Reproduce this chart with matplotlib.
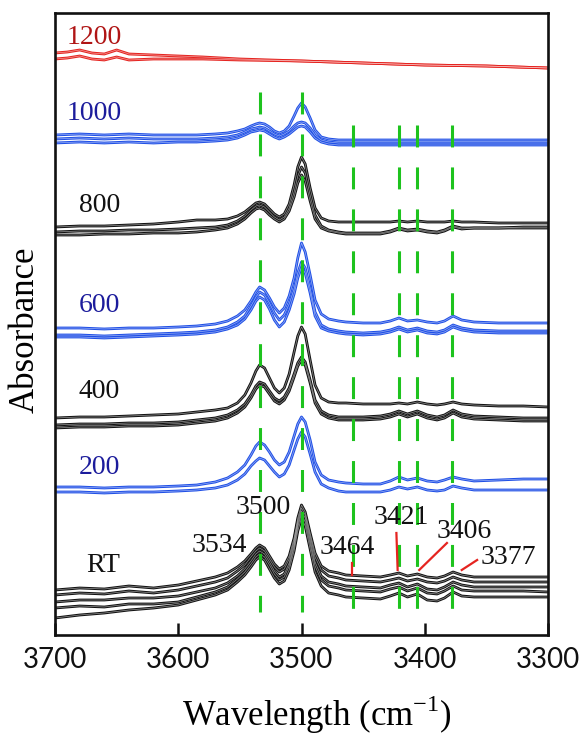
import matplotlib
matplotlib.use("Agg")
import matplotlib.pyplot as plt

plt.rcParams["lines.scale_dashes"] = False

# ---------------- data ----------------
wn = [3700, 3680, 3660, 3640, 3620, 3600,
      3585, 3570, 3560, 3552, 3546, 3541, 3537, 3534,
      3530, 3526, 3522, 3518, 3514, 3510, 3506, 3503, 3500,
      3497, 3493, 3489, 3484, 3478, 3470, 3464,
      3450, 3436, 3428, 3421, 3414, 3406, 3398, 3390, 3384, 3377,
      3370, 3360, 3340, 3320, 3300]

rt_lines = [
    [45, 47, 46, 49, 47, 50, 54, 58, 62, 68, 74, 81, 87, 90, 87, 79, 71, 66, 69, 79, 97, 117, 130,
     123, 102, 82, 69, 64, 62, 60, 59, 58, 60, 62, 59, 61, 58, 57, 59, 63, 60, 58, 58, 58, 58],
    [40, 42, 41, 44, 42, 45, 49, 53, 57, 64, 70, 78, 84, 87, 84, 76, 68, 63, 66, 76, 94, 114, 127,
     120, 99, 78, 65, 59, 57, 55, 54, 53, 55, 57, 54, 56, 53, 52, 54, 58, 55, 53, 53, 53, 53],
    [33, 35, 35, 37, 37, 39, 43, 47, 52, 59, 66, 74, 81, 84, 81, 73, 64, 58, 61, 72, 91, 111, 124,
     117, 95, 73, 59, 53, 51, 49, 48, 47, 50, 52, 48, 51, 46, 45, 48, 53, 50, 48, 48, 48, 48],
    [27, 29, 28, 31, 31, 33, 38, 43, 48, 56, 63, 71, 78, 81, 78, 70, 61, 55, 58, 69, 88, 108, 121,
     113, 91, 69, 55, 49, 47, 45, 44, 43, 46, 48, 44, 47, 42, 41, 44, 49, 45, 44, 44, 44, 43],
    [17, 20, 22, 25, 27, 30, 35, 40, 45, 53, 60, 68, 75, 78, 75, 66, 57, 51, 54, 65, 84, 104, 117,
     109, 86, 63, 49, 42, 40, 38, 37, 36, 39, 42, 38, 41, 35, 34, 37, 43, 39, 38, 38, 38, 38],
]
t200_lines = [
    [148, 148, 147, 148, 148, 149, 150, 153, 157, 163, 170, 180, 189, 193, 190, 183, 175, 170, 173, 183, 199, 211, 218,
     213, 195, 173, 160, 155, 153, 152, 151, 151, 154, 158, 155, 157, 154, 153, 155, 158, 156, 154, 155, 156, 156],
    [143, 143, 142, 143, 143, 144, 145, 147, 150, 155, 161, 169, 174, 177, 175, 169, 163, 158, 161, 170, 185, 196, 203,
     198, 181, 163, 151, 147, 144, 143, 143, 143, 145, 148, 146, 148, 145, 144, 145, 149, 147, 145, 145, 145, 145],
]
t400_lines = [
    [217, 218, 218, 219, 220, 221, 223, 225, 227, 232, 240, 252, 264, 270, 267, 257, 247, 242, 247, 261, 283, 299, 308,
     301, 275, 250, 237, 233, 232, 232, 231, 231, 231, 232, 231, 233, 231, 230, 231, 233, 231, 230, 229, 229, 228],
    [210, 211, 211, 212, 212, 213, 215, 217, 220, 225, 231, 240, 249, 253, 251, 244, 237, 234, 238, 247, 261, 272, 278,
     273, 255, 235, 224, 220, 218, 218, 218, 219, 221, 224, 221, 224, 220, 218, 220, 225, 221, 219, 218, 217, 217],
    [207, 208, 208, 209, 209, 210, 212, 214, 217, 222, 228, 237, 246, 250, 248, 241, 234, 231, 235, 244, 258, 269, 275,
     270, 252, 232, 221, 217, 215, 215, 215, 216, 218, 221, 218, 221, 217, 215, 217, 222, 218, 216, 215, 214, 214],
]
t600_lines = [
    [307, 307, 306, 307, 307, 308, 309, 311, 314, 319, 325, 334, 343, 348, 345, 337, 328, 322, 327, 339, 357, 377, 392,
     383, 360, 335, 321, 316, 314, 313, 312, 312, 314, 317, 314, 315, 313, 312, 314, 319, 315, 313, 312, 312, 312],
    [300, 300, 299, 300, 301, 302, 303, 305, 308, 313, 319, 329, 338, 343, 340, 332, 322, 315, 320, 331, 346, 362, 373,
     367, 347, 323, 310, 306, 304, 303, 302, 303, 305, 308, 305, 307, 304, 303, 305, 310, 307, 305, 304, 304, 304],
    [298, 298, 297, 298, 299, 300, 301, 303, 306, 310, 316, 325, 334, 338, 335, 326, 315, 308, 313, 325, 341, 357, 368,
     362, 342, 319, 307, 304, 302, 301, 300, 301, 303, 306, 303, 305, 302, 301, 303, 308, 305, 303, 302, 302, 302],
]
t800_lines = [
    [408, 409, 409, 410, 411, 413, 415, 415, 416, 419, 423, 428, 432, 433, 431, 426, 421, 418, 421, 431, 450, 468, 478,
     471, 447, 427, 417, 414, 413, 413, 413, 413, 413, 414, 413, 414, 413, 413, 413, 414, 413, 413, 412, 412, 412],
    [403, 404, 404, 405, 405, 406, 407, 408, 410, 414, 419, 425, 429, 430, 428, 423, 418, 415, 418, 427, 443, 459, 468,
     462, 440, 420, 409, 405, 403, 402, 402, 402, 404, 407, 405, 406, 404, 403, 405, 409, 407, 407, 407, 407, 407],
    [400, 400, 401, 401, 402, 402, 403, 405, 407, 411, 416, 422, 426, 427, 425, 420, 416, 413, 416, 424, 438, 452, 460,
     454, 434, 416, 407, 404, 402, 401, 401, 401, 403, 406, 404, 405, 403, 402, 404, 408, 406, 407, 407, 408, 408],
]
t1000_lines = [
    [500, 501, 500, 501, 500, 500, 500, 501, 502, 504, 506, 509, 511, 512, 511, 508, 504, 502, 504, 509, 519, 527, 532,
     528, 517, 505, 498, 496, 495, 495, 495, 495, 495, 495, 495, 495, 495, 495, 495, 495, 495, 495, 495, 495, 495],
    [496, 497, 496, 497, 496, 496, 496, 497, 498, 500, 503, 506, 507, 508, 507, 504, 501, 499, 501, 504, 509, 512, 513,
     512, 507, 500, 495, 493, 492, 492, 492, 492, 492, 492, 492, 492, 492, 492, 492, 492, 492, 492, 492, 492, 492],
    [492, 493, 492, 493, 492, 493, 493, 494, 495, 497, 500, 503, 504, 505, 504, 501, 498, 496, 498, 501, 505, 508, 509,
     508, 503, 497, 493, 491, 490, 490, 490, 490, 490, 490, 490, 490, 490, 490, 490, 490, 490, 490, 490, 490, 490],
]
wn_1200 = [3700, 3690, 3680, 3670, 3660, 3650, 3640, 3620, 3600, 3580, 3550, 3500, 3450, 3400, 3350, 3300]
t1200_lines = [
    [582, 583, 585, 582, 581, 585, 581, 580, 579, 578, 576, 574, 572, 570, 569, 567],
    [576, 577, 579, 576, 575, 578, 575, 576, 576, 576, 575, 574, 572, 570, 569, 567],
]

group_names = ["RT", "200", "400", "600", "800", "1000", "1200"]

peak_lines = [3534, 3500, 3458, 3421, 3406, 3378]
peak_tops = [543, 543, 510, 510, 510, 510]
peak_bottom = 23

peak_labels = ["3534", "3500", "3464", "3421", "3406", "3377"]
xticks = [3700, 3600, 3500, 3400, 3300]

# ---------------- styling / layout ----------------
BLACK = "#111111"
BLUE = "#1f4fe6"
RED = "#e52420"
GREEN = "#1ec31e"
NAVY = "#1c1c9c"
DARKRED = "#b01515"
SERIF = "Liberation Serif"

groups = [
    (wn, rt_lines, BLACK, BLACK, (3661, 69)),
    (wn, t200_lines, BLUE, NAVY, (3664, 168)),
    (wn, t400_lines, BLACK, BLACK, (3664, 243)),
    (wn, t600_lines, BLUE, NAVY, (3664, 330)),
    (wn, t800_lines, BLACK, BLACK, (3664, 430)),
    (wn, t1000_lines, BLUE, NAVY, (3668, 521)),
    (wn_1200, t1200_lines, RED, DARKRED, (3668, 598)),
]

W, H = 582, 738
fig = plt.figure(figsize=(W / 100, H / 100), dpi=100)
ax = fig.add_axes([55 / W, 1 - 635 / H, 493 / W, 622 / H])

for (x, lines, col, lcol, lpos), name in zip(groups, group_names):
    for vals in lines:
        ax.plot(x, vals, color=col, lw=2.0, solid_joinstyle="round",
                solid_capstyle="round", zorder=2)
        ax.plot(x, vals, color="white", lw=0.55, alpha=0.5, zorder=2.1)
    ax.text(lpos[0], lpos[1], name, color=lcol, fontsize=20, family=SERIF,
            ha="center", va="center", zorder=4)

for xp, top in zip(peak_lines, peak_tops):
    ax.plot([xp, xp], [top, peak_bottom], color=GREEN, lw=2.2,
            linestyle=(0, (15.8, 14.4)), dash_capstyle="butt", zorder=3)

# peak annotations
ann_pos = [(3567, 89), (3531, 128), (3463, 87), (3419, 118), (3368, 104), (3332, 78)]
leaders = [None, None,
           ((3459, 72), (3459, 60)),
           ((3423, 102), (3422, 65)),
           ((3382, 92), (3404.5, 65)),
           ((3357.5, 75), (3370, 65))]
for lab, pos, ld in zip(peak_labels, ann_pos, leaders):
    ax.text(pos[0], pos[1], lab, fontsize=20, family=SERIF, color=BLACK,
            ha="center", va="center", zorder=4)
    if ld is not None:
        ax.plot([ld[0][0], ld[1][0]], [ld[0][1], ld[1][1]], color=RED, lw=1.6, zorder=4)

ax.set_xlim(3700, 3300)
ax.set_ylim(0, 622)
ax.set_xticks(xticks)
ax.set_xticklabels([str(t) for t in xticks])
ax.set_yticks([])
ax.tick_params(axis="x", direction="in", length=9, width=1.8, pad=9,
               labelsize=20, colors=BLACK)
for lab in ax.get_xticklabels():
    lab.set_fontfamily("Lato")
for sp in ax.spines.values():
    sp.set_linewidth(1.9)
    sp.set_color(BLACK)

fig.text(25 / W, 1 - 330 / H, "Absorbance", rotation=90, fontsize=25,
         family=SERIF, ha="center", va="center")
fig.text(317 / W, 1 - 726 / H, r"Wavelength (cm$^{\mathregular{-1}}$)", fontsize=25,
         family=SERIF, ha="center", va="baseline")

fig.savefig("out.png", dpi=100)
